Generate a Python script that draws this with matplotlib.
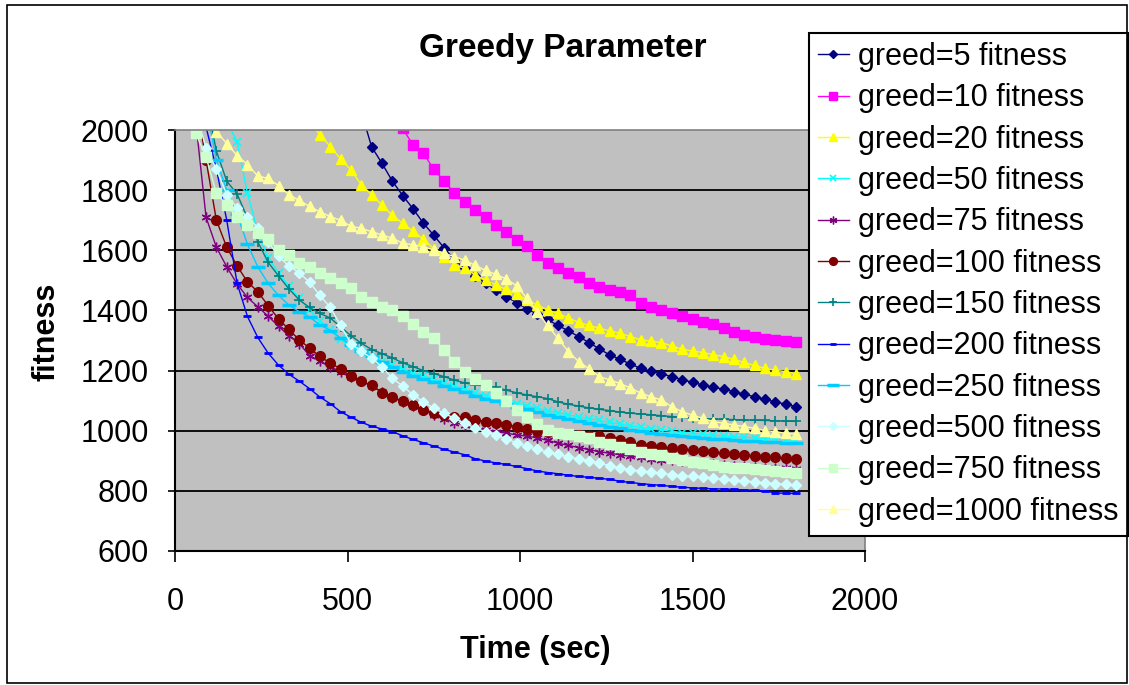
import numpy as np
import matplotlib
matplotlib.use('Agg')
import matplotlib.pyplot as plt
from matplotlib.patches import Rectangle

# sample times (sec), every series is read at these times, ending at 1800
time_sec = [30, 60, 90, 120, 150, 180, 210, 240, 270, 300,
            330, 360, 390, 420, 450, 480, 510, 540, 570, 600,
            630, 660, 690, 720, 750, 780, 810, 840, 870, 900,
            930, 960, 990, 1020, 1050, 1080, 1110, 1140, 1170, 1200,
            1230, 1260, 1290, 1320, 1350, 1380, 1410, 1440, 1470, 1500,
            1530, 1560, 1590, 1620, 1650, 1680, 1710, 1740, 1770, 1800]

labels = ['greed=5 fitness', 'greed=10 fitness', 'greed=20 fitness', 'greed=50 fitness',
          'greed=75 fitness', 'greed=100 fitness', 'greed=150 fitness', 'greed=200 fitness',
          'greed=250 fitness', 'greed=500 fitness', 'greed=750 fitness', 'greed=1000 fitness']

# fitness values, aligned with the last len(...) entries of time_sec
greed5 = [2060, 1944, 1889, 1830, 1782, 1738, 1690, 1650, 1608, 1568,
          1540, 1515, 1490, 1468, 1446, 1426, 1405, 1388, 1370, 1350,
          1332, 1313, 1293, 1272, 1252, 1237, 1222, 1207, 1198, 1189,
          1180, 1170, 1161, 1152, 1145, 1138, 1130, 1121, 1113, 1104,
          1096, 1088, 1080]
greed10 = [2005, 1950, 1922, 1870, 1830, 1790, 1762, 1734, 1712, 1684,
           1662, 1635, 1614, 1584, 1557, 1540, 1526, 1510, 1492, 1479,
           1468, 1462, 1451, 1424, 1410, 1401, 1392, 1382, 1370, 1360,
           1354, 1340, 1327, 1318, 1313, 1304, 1302, 1298, 1294]
greed20 = [2025, 1985, 1945, 1904, 1867, 1818, 1785, 1750, 1716, 1690,
           1663, 1637, 1605, 1579, 1551, 1540, 1518, 1501, 1485, 1470,
           1455, 1435, 1418, 1401, 1390, 1375, 1360, 1350, 1341, 1332,
           1324, 1313, 1302, 1298, 1293, 1282, 1271, 1265, 1260, 1253,
           1246, 1237, 1227, 1217, 1207, 1201, 1196, 1189]
greed50 = [2030, 1960, 1790, 1660, 1575, 1525, 1480, 1440, 1400, 1365,
           1335, 1306, 1283, 1262, 1245, 1230, 1218, 1205, 1193, 1182,
           1171, 1160, 1149, 1138, 1127, 1117, 1108, 1099, 1090, 1082,
           1074, 1067, 1060, 1053, 1046, 1040, 1034, 1028, 1022, 1016,
           1011, 1006, 1002, 998, 994, 991, 988, 985, 982, 980,
           978, 976, 974, 972, 970, 968]
greed75 = [2030, 1710, 1610, 1545, 1488, 1443, 1412, 1381, 1347, 1316,
           1290, 1250, 1232, 1213, 1196, 1180, 1164, 1149, 1128, 1110,
           1096, 1082, 1068, 1052, 1040, 1027, 1018, 1009, 1003, 997,
           992, 986, 982, 976, 968, 959, 951, 944, 937, 930,
           925, 920, 915, 911, 907, 904, 901, 898, 895, 891,
           888, 886, 883, 881, 879, 877, 876, 875, 874]
greed100 = [2100, 1900, 1700, 1610, 1548, 1495, 1462, 1416, 1372, 1337,
            1302, 1275, 1247, 1225, 1206, 1181, 1165, 1151, 1127, 1111,
            1099, 1086, 1069, 1060, 1052, 1047, 1044, 1037, 1030, 1025,
            1019, 1014, 1007, 1000, 995, 991, 988, 985, 983, 981,
            975, 968, 961, 954, 949, 945, 941, 938, 935, 932,
            928, 925, 922, 919, 916, 914, 911, 908, 905]
greed150 = [2100, 1930, 1830, 1787, 1708, 1628, 1560, 1515, 1472, 1435,
            1410, 1390, 1375, 1345, 1316, 1291, 1270, 1256, 1242, 1226,
            1213, 1200, 1190, 1180, 1168, 1159, 1152, 1148, 1144, 1135,
            1126, 1119, 1113, 1107, 1096, 1088, 1082, 1076, 1071, 1067,
            1062, 1058, 1056, 1053, 1050, 1047, 1044, 1041, 1040, 1039,
            1038, 1037, 1036, 1035, 1034, 1033, 1032, 1031]
greed200 = [2010, 1870, 1700, 1490, 1380, 1310, 1258, 1218, 1188, 1165,
            1140, 1112, 1090, 1063, 1045, 1028, 1015, 1006, 997, 983,
            971, 960, 949, 938, 929, 920, 907, 899, 893, 888,
            881, 874, 866, 861, 857, 852, 848, 845, 842, 838,
            832, 828, 824, 821, 818, 815, 812, 810, 808, 807,
            806, 805, 803, 802, 800, 793, 792, 792]
greed250 = [2080, 1900, 1800, 1720, 1620, 1545, 1490, 1450, 1418, 1396,
            1378, 1352, 1333, 1308, 1285, 1266, 1248, 1228, 1212, 1196,
            1182, 1172, 1162, 1150, 1139, 1128, 1117, 1107, 1098, 1089,
            1080, 1071, 1062, 1053, 1046, 1039, 1032, 1026, 1020, 1014,
            1008, 1003, 998, 994, 990, 986, 982, 979, 976, 974,
            971, 969, 967, 965, 963, 961, 960, 958]
greed500 = [2060, 1940, 1870, 1785, 1740, 1712, 1675, 1628, 1580, 1548,
            1525, 1494, 1450, 1410, 1350, 1290, 1264, 1241, 1213, 1174,
            1149, 1119, 1097, 1074, 1058, 1041, 1025, 1008, 997, 986,
            973, 960, 948, 938, 929, 921, 913, 906, 899, 892,
            884, 877, 870, 866, 862, 858, 854, 851, 848, 845,
            842, 839, 836, 833, 830, 827, 824, 822, 819]
greed750 = [1989, 1910, 1790, 1751, 1712, 1684, 1656, 1636, 1601, 1584,
            1557, 1545, 1523, 1507, 1490, 1474, 1446, 1429, 1412, 1400,
            1382, 1354, 1329, 1307, 1268, 1229, 1194, 1172, 1152, 1124,
            1099, 1068, 1047, 1022, 1004, 993, 989, 981, 975, 964,
            957, 947, 938, 930, 924, 918, 910, 903, 897, 892,
            886, 880, 877, 875, 872, 869, 866, 863, 858]
greed1000 = [1995, 1955, 1915, 1885, 1847, 1839, 1815, 1785, 1766, 1746,
             1728, 1712, 1700, 1680, 1673, 1662, 1651, 1640, 1624, 1618,
             1612, 1601, 1590, 1579, 1567, 1550, 1533, 1520, 1505, 1482,
             1440, 1396, 1350, 1307, 1263, 1230, 1206, 1180, 1169, 1157,
             1142, 1125, 1113, 1102, 1080, 1063, 1052, 1041, 1030, 1025,
             1019, 1014, 1008, 1000, 997, 991, 989]

series = [greed5, greed10, greed20, greed50, greed75, greed100,
          greed150, greed200, greed250, greed500, greed750, greed1000]

# excel 2003 default series colours / markers
colors = ['#000080', '#FF00FF', '#FFFF00', '#00FFFF', '#800080', '#800000',
          '#008080', '#0000FF', '#00CCFF', '#CCFFFF', '#CCFFCC', '#FFFF99']
markers = ['D', 's', '^', 'x', (6, 2, 0), 'o', '+', '_', '_', 'D', 's', '^']
msizes = [5.5, 7, 7.5, 6, 7, 7, 7, 6, 10, 5.5, 7.5, 7.5]
mews = [1, 1, 1, 1.2, 1, 1, 1.2, 2, 2.5, 1, 1, 1]

# global plot settings
font_size = 22
plt.rcParams['font.family'] = ['Liberation Sans', 'DejaVu Sans']
plt.rcParams['font.size'] = font_size

W, H = 1129, 685
fig = plt.figure(figsize=(W/100, H/100), dpi=100)
ax = fig.add_axes([175/W, 1-551/H, 690/W, 421/H])
ax.set_facecolor('#C0C0C0')

for vals, lab, c, m, ms, mew in zip(series, labels, colors, markers, msizes, mews):
    t = time_sec[-len(vals):]
    ax.plot(t, vals, color=c, lw=1.0, marker=m, ms=ms, mew=mew,
            mfc=c, mec=c, label=lab)

ax.set_xlim(0, 2000)
ax.set_ylim(600, 2000)
ax.set_xticks(np.arange(0, 2001, 500))
ax.set_yticks(np.arange(600, 2001, 200))

# gridlines, none on the top edge
ax.set_axisbelow(True)
ax.yaxis.grid(True, color='black', lw=1.3)
ax.get_ygridlines()[-1].set_visible(False)

for s in ['top', 'right']:
    ax.spines[s].set_color('#808080')
    ax.spines[s].set_linewidth(1.2)
for s in ['left', 'bottom']:
    ax.spines[s].set_color('black')
    ax.spines[s].set_linewidth(1.5)

ax.tick_params(axis='x', direction='out', length=8, width=1.2, pad=18)
ax.tick_params(axis='y', direction='out', length=5, width=1.2, pad=14)

ax.set_xlabel('Time (sec)', fontweight='bold', fontsize=font_size)
ax.xaxis.set_label_coords(0.522, -0.20)
ax.set_ylabel('fitness', fontweight='bold', fontsize=font_size)
ax.yaxis.set_label_coords(-0.165, 0.52)

fig.text(563/W, 1-48/H, 'Greedy Parameter', fontweight='bold', fontsize=24,
         ha='center', va='center')

leg = ax.legend(loc='upper left', bbox_to_anchor=(809/W, 1-33/H),
                bbox_transform=fig.transFigure, borderaxespad=0,
                fontsize=font_size, handlelength=1.0, handletextpad=0.3,
                labelspacing=0.37, borderpad=0.3, fancybox=False,
                framealpha=1, edgecolor='black', markerscale=0.8)
leg.get_frame().set_linewidth(1.5)

# outer chart border
fig.patches.append(Rectangle((7/W, 1-683/H), 1120/W, 678/H, transform=fig.transFigure,
                             fill=False, edgecolor='black', lw=1.2))

plt.savefig('out.png', dpi=100)
